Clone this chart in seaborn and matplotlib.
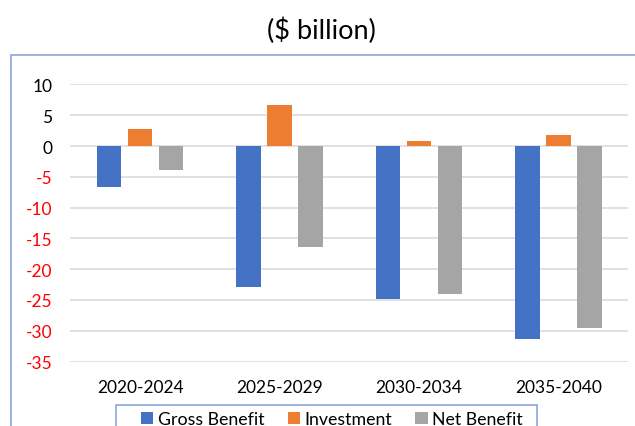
import matplotlib
matplotlib.use("Agg")
import matplotlib.pyplot as plt
from matplotlib.patches import Rectangle
import seaborn as sns
import pandas as pd

# Values in $ billion per period
periods = ["2020-2024", "2025-2029", "2030-2034", "2035-2040"]
gross_benefit = [-6.7, -22.9, -24.8, -31.3]
investment = [2.7, 6.6, 0.8, 1.8]
net_benefit = [-3.9, -16.4, -24.0, -29.6]
series_names = ["Gross Benefit", "Investment", "Net Benefit"]
y_ticks = [10, 5, 0, -5, -10, -15, -20, -25, -30, -35]

colors = ["#4472C4", "#ED7D31", "#A5A5A5"]
border_color = "#8AA7DC"

df = pd.DataFrame({
    "Period": periods * 3,
    "Series": [s for s in series_names for _ in periods],
    "Value": gross_benefit + investment + net_benefit,
})

sns.set_theme(style="white")
plt.rcParams["font.family"] = ["Lato", "DejaVu Sans"]

fig = plt.figure(figsize=(6.35, 4.27), dpi=100)
ax = fig.add_axes([70.3 / 635, 1 - 363 / 427, (628.3 - 70.3) / 635, (363 - 85) / 427])

sns.barplot(data=df, x="Period", y="Value", hue="Series", order=periods,
            hue_order=series_names, palette=colors, width=0.667, gap=0.22,
            linewidth=0, saturation=1, errorbar=None, ax=ax, legend=False,
            zorder=3)

ax.set_ylim(-35.08, 10.08)
ax.set_xlim(-0.5, len(periods) - 0.5)
ax.set_yticks(y_ticks)
ax.set_yticklabels([str(v) for v in y_ticks])
for lbl, v in zip(ax.get_yticklabels(), y_ticks):
    lbl.set_color("#FF0000" if v < 0 else "#000000")
ax.grid(axis="y", color="#D9D9D9", linewidth=1.1, zorder=0)
ax.grid(axis="x", visible=False)
for s in ax.spines.values():
    s.set_visible(False)
ax.tick_params(axis="y", length=0, pad=13, labelsize=12.5)
ax.tick_params(axis="x", length=0, pad=12, labelsize=12.5, labelcolor="#000000")
ax.set_xlabel("")
ax.set_ylabel("")

fig.text(321 / 635, 1 - 31 / 427, "($ billion)", ha="center", va="center",
         fontsize=19.5, color="#000000")

# Chart area border
fig.patches.append(Rectangle((11 / 635, -0.2), 1.2, 0.2 + (1 - 55.7 / 427),
                             transform=fig.transFigure, fill=False,
                             edgecolor=border_color, linewidth=1.2, clip_on=False))

# Legend box
fig.patches.append(Rectangle((116 / 635, -0.2), (537 - 116) / 635, 0.2 + (1 - 405.7 / 427),
                             transform=fig.transFigure, fill=False,
                             edgecolor=border_color, linewidth=1.2, clip_on=False))

handles = [Rectangle((0, 0), 1, 1, facecolor=c, edgecolor="none") for c in colors]
leg = fig.legend(handles, series_names, loc="upper left", ncol=3,
                 bbox_to_anchor=(141 / 635, 1 - 412 / 427),
                 fontsize=12.8, frameon=False,
                 handlelength=0.7, handleheight=0.7, handletextpad=0.25,
                 columnspacing=1.3, borderpad=0, borderaxespad=0)
for t in leg.get_texts():
    t.set_color("#000000")

fig.savefig("out.png", dpi=100)
